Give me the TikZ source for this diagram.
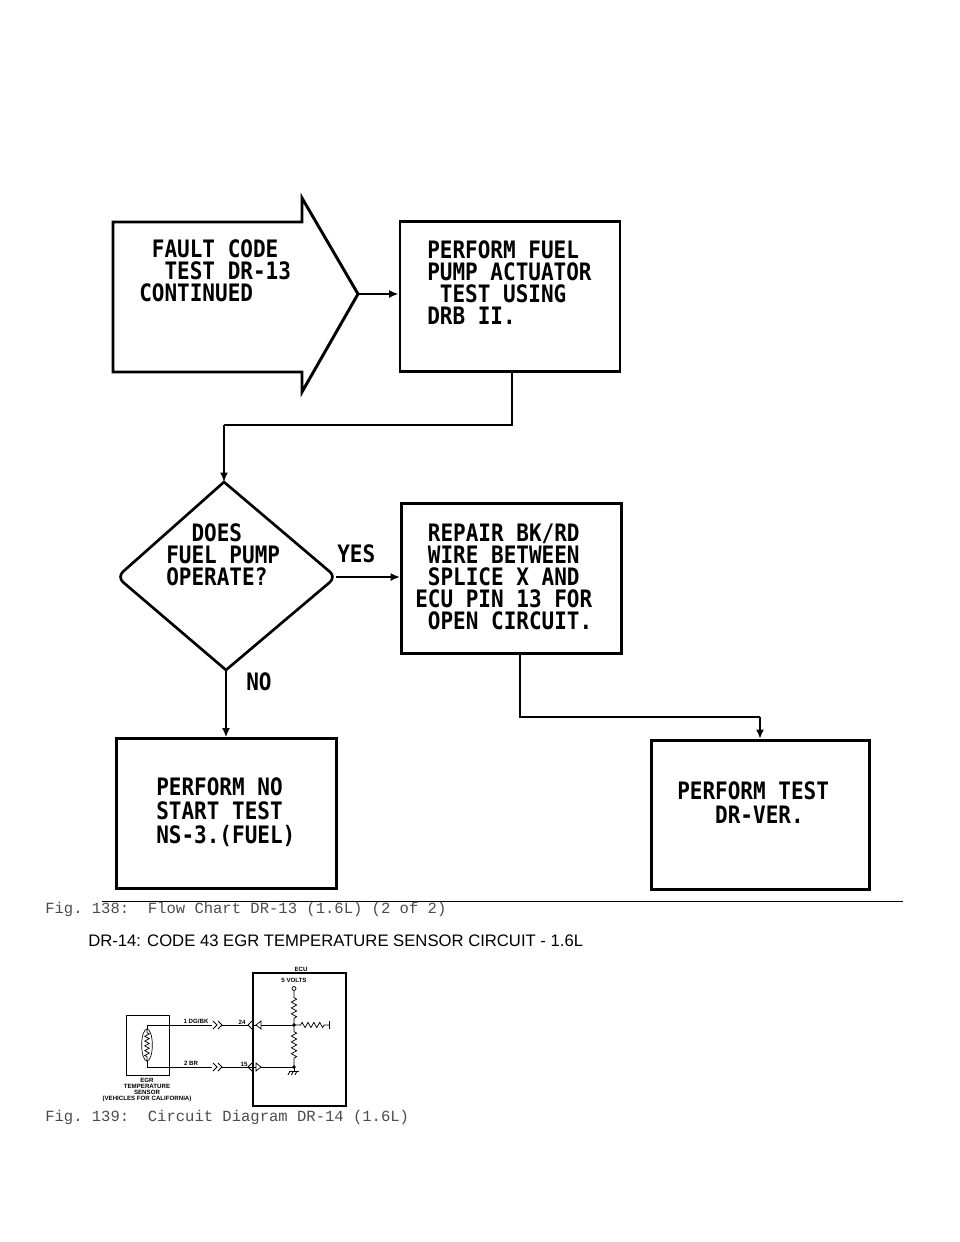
\documentclass[tikz,border=0pt]{standalone}
\usepackage{fontspec}
\usepackage{tikz}
\usetikzlibrary{arrows.meta,decorations.pathmorphing,shapes.geometric}
\setmainfont{Liberation Sans}
\setmonofont{Liberation Mono}
\newfontfamily\chartfont[FakeStretch=0.875]{DejaVu Sans Mono}
\definecolor{capgray}{gray}{0.3}
\tikzset{
  chartbox/.style={draw=black,line width=2.2pt,minimum width=165pt,minimum height=112pt,inner sep=0pt},
  chartline/.style={draw=black,line width=1.5pt},
  chartarrow/.style={chartline,-{Latex[length=7pt,width=6pt]}},
  charttext/.style={align=left,anchor=north west,inner sep=0pt,font=\chartfont\bfseries\fontsize{18}{16.5}\selectfont},
  caption/.style={anchor=west,inner sep=0pt,text=capgray,font=\ttfamily\fontsize{11.66}{12}\selectfont},
  wire/.style={draw=black,line width=0.55pt},
  tinytext/.style={inner sep=0pt,align=center,font=\bfseries\fontsize{4.6}{4.5}\selectfont},
}
\begin{document}
\begin{tikzpicture}[x=0.75pt,y=-0.75pt]
  \useasboundingbox (0,0) rectangle (960,1242);
  % flow chart
  \coordinate (tail) at (358,294);
  \draw[chartline,line width=2.2pt,line join=miter] (113,222) -- (302,222) -- (302,198) -- (tail) -- (302,392) -- (302,372) -- (113,372) -- cycle;
  \node[chartbox] (actuator) at (510,296.5) {};
  \node[chartbox] (repair) at (511.5,578.5) {};
  \node[chartbox,minimum height=112pt] (nostart) at (226.5,813.5) {};
  \node[chartbox,minimum width=163pt] (drver) at (760.5,815) {};
  \coordinate (dtop) at (224,482);
  \coordinate (dright) at (336,577);
  \coordinate (dbottom) at (226,670);
  \coordinate (dleft) at (117,577);
  \draw[chartline,line width=2pt] (dtop) [rounded corners=6pt] -- (dright) [sharp corners] -- (dbottom) [rounded corners=6pt] -- (dleft) [sharp corners] -- cycle;
  \coordinate (elbowa) at (512,425);
  \coordinate (elbowb) at (224,425);
  \coordinate (elbowc) at (520,717);
  \coordinate (elbowd) at (760,717);
  \draw[chartarrow] (tail) -- (tail -| actuator.west);
  \draw[chartline] (actuator.south -| elbowa) -- (elbowa) -- (elbowb);
  \draw[chartarrow] (elbowb) -- (dtop);
  \draw[chartarrow] (dright) -- (dright -| repair.west);
  \draw[chartarrow] (dbottom) -- (dbottom |- nostart.north);
  \draw[chartline] (repair.south -| elbowc) -- (elbowc) -- (elbowd);
  \draw[chartarrow] (elbowd) -- (drver.north -| elbowd);
  \node[charttext] (faulttext) at (139,239) {\ FAULT CODE\\\ \ TEST DR-13\\CONTINUED};
  \node[charttext] (pumptext) at (427,240) {PERFORM FUEL\\PUMP ACTUATOR\\\ TEST USING\\DRB II.};
  \node[charttext] (doestext) at (166,523) {\ \ DOES\\FUEL PUMP\\OPERATE?};
  \node[charttext] (repairtext) at (415,524) {\ REPAIR BK/RD\\\ WIRE BETWEEN\\\ SPLICE X AND\\ECU PIN 13 FOR\\\ OPEN CIRCUIT.};
  \node[charttext] (yes) at (337,544) {YES};
  \node[charttext] (no) at (246,672) {NO};
  \node[charttext] (nstext) at (156,777) {PERFORM NO\\[1.5pt]START TEST\\[1.5pt]NS-3.(FUEL)};
  \node[charttext] (vertext) at (677,781) {PERFORM TEST\\[1.5pt]\ \ \ DR-VER.};
  % page text
  \coordinate (rulea) at (102,901);
  \coordinate (ruleb) at (903,901);
  \draw[black,line width=0.6pt] (rulea) -- (ruleb);
  \node[caption] (capa) at (45,909) {Fig. 138:\ \ Flow Chart DR-13 (1.6L) (2 of 2)};
  \node[anchor=west,inner sep=0pt,font=\fontsize{12.5}{14}\selectfont] (heading) at (88,941) {DR-14: CODE 43 EGR TEMPERATURE SENSOR CIRCUIT - 1.6L};
  \node[caption] (capb) at (45,1117) {Fig. 139:\ \ Circuit Diagram DR-14 (1.6L)};
  % circuit
  \node[draw=black,line width=0.7pt,minimum width=32.25pt,minimum height=45pt,inner sep=0pt] (sensor) at (147.5,1045) {};
  \node[draw=black,line width=0.8pt,minimum width=69.75pt,minimum height=99.75pt,inner sep=0pt] (ecu) at (299.5,1039.5) {};
  \node[draw=black,line width=0.5pt,ellipse,minimum width=8pt,minimum height=24pt,inner sep=0pt] (bulb) at (147,1045) {};
  \coordinate (wa) at (147,1025);
  \coordinate (wb) at (147,1067);
  \coordinate (ja) at (294,1025);
  \coordinate (jb) at (294,1067);
  \coordinate (vcc) at (294,991);
  \coordinate (rend) at (329,1025);
  \draw[wire] (wa) -- (bulb.north);
  \draw[wire] (wb) -- (bulb.south);
  \draw[wire,decorate,decoration={zigzag,amplitude=1.7pt,segment length=3.6pt,pre length=3pt,post length=3pt}] (bulb.north) -- (bulb.south);
  \draw[wire] (wa) -- (212,1025);
  \draw[wire] (wb) -- (212,1067);
  \draw[wire] (222,1025) -- (ja);
  \draw[wire] (222,1067) -- (jb);
  \draw[wire] (213,1021) -- (217,1025) -- (213,1029) (218,1021) -- (222,1025) -- (218,1029);
  \draw[wire] (213,1063) -- (217,1067) -- (213,1071) (218,1063) -- (222,1067) -- (218,1071);
  \draw[wire,fill=white] (252,1021) -- (248,1025) -- (252,1029);
  \draw[wire] (252,1063) -- (248,1067) -- (252,1071);
  \draw[wire,fill=white] (261,1021) -- (256,1025) -- (261,1029) -- cycle;
  \draw[wire,fill=white] (256,1063) -- (261,1067) -- (256,1071) -- cycle;
  \draw[wire,decorate,decoration={zigzag,amplitude=2pt,segment length=4.4pt,pre length=5pt,post length=5pt}] (vcc) -- (ja);
  \draw[wire,decorate,decoration={zigzag,amplitude=2pt,segment length=4.4pt,pre length=5pt,post length=5pt}] (ja) -- (jb);
  \draw[wire,decorate,decoration={zigzag,amplitude=2pt,segment length=4.4pt,pre length=5pt,post length=3pt}] (ja) -- (rend);
  \draw[wire] (329,1021) -- (329,1029);
  \draw[wire,fill=white] (294,988.5) circle (1.5pt);
  \draw[fill=black] (ja) circle (1.1pt);
  \draw[fill=black] (jb) circle (1.1pt);
  \draw[wire] (289,1071) -- (299,1071);
  \draw[wire] (jb) -- (294,1071);
  \draw[wire] (288,1075) -- (290,1071) (291.5,1075) -- (293.5,1071) (295,1075) -- (297,1071);
  \node[tinytext] (ecutext) at (301,969) {ECU};
  \node[tinytext] (voltstext) at (294,980) {5 VOLTS};
  \node[tinytext] (wirea) at (196,1021) {1 DG/BK};
  \node[tinytext] (wireb) at (191,1063) {2 BR};
  \node[tinytext] (pina) at (242,1022) {24};
  \node[tinytext] (pinb) at (244,1064) {15};
  \node[tinytext] (sensortext) at (147,1090) {EGR\\TEMPERATURE\\SENSOR\\(VEHICLES FOR CALIFORNIA)};
\end{tikzpicture}
\end{document}
